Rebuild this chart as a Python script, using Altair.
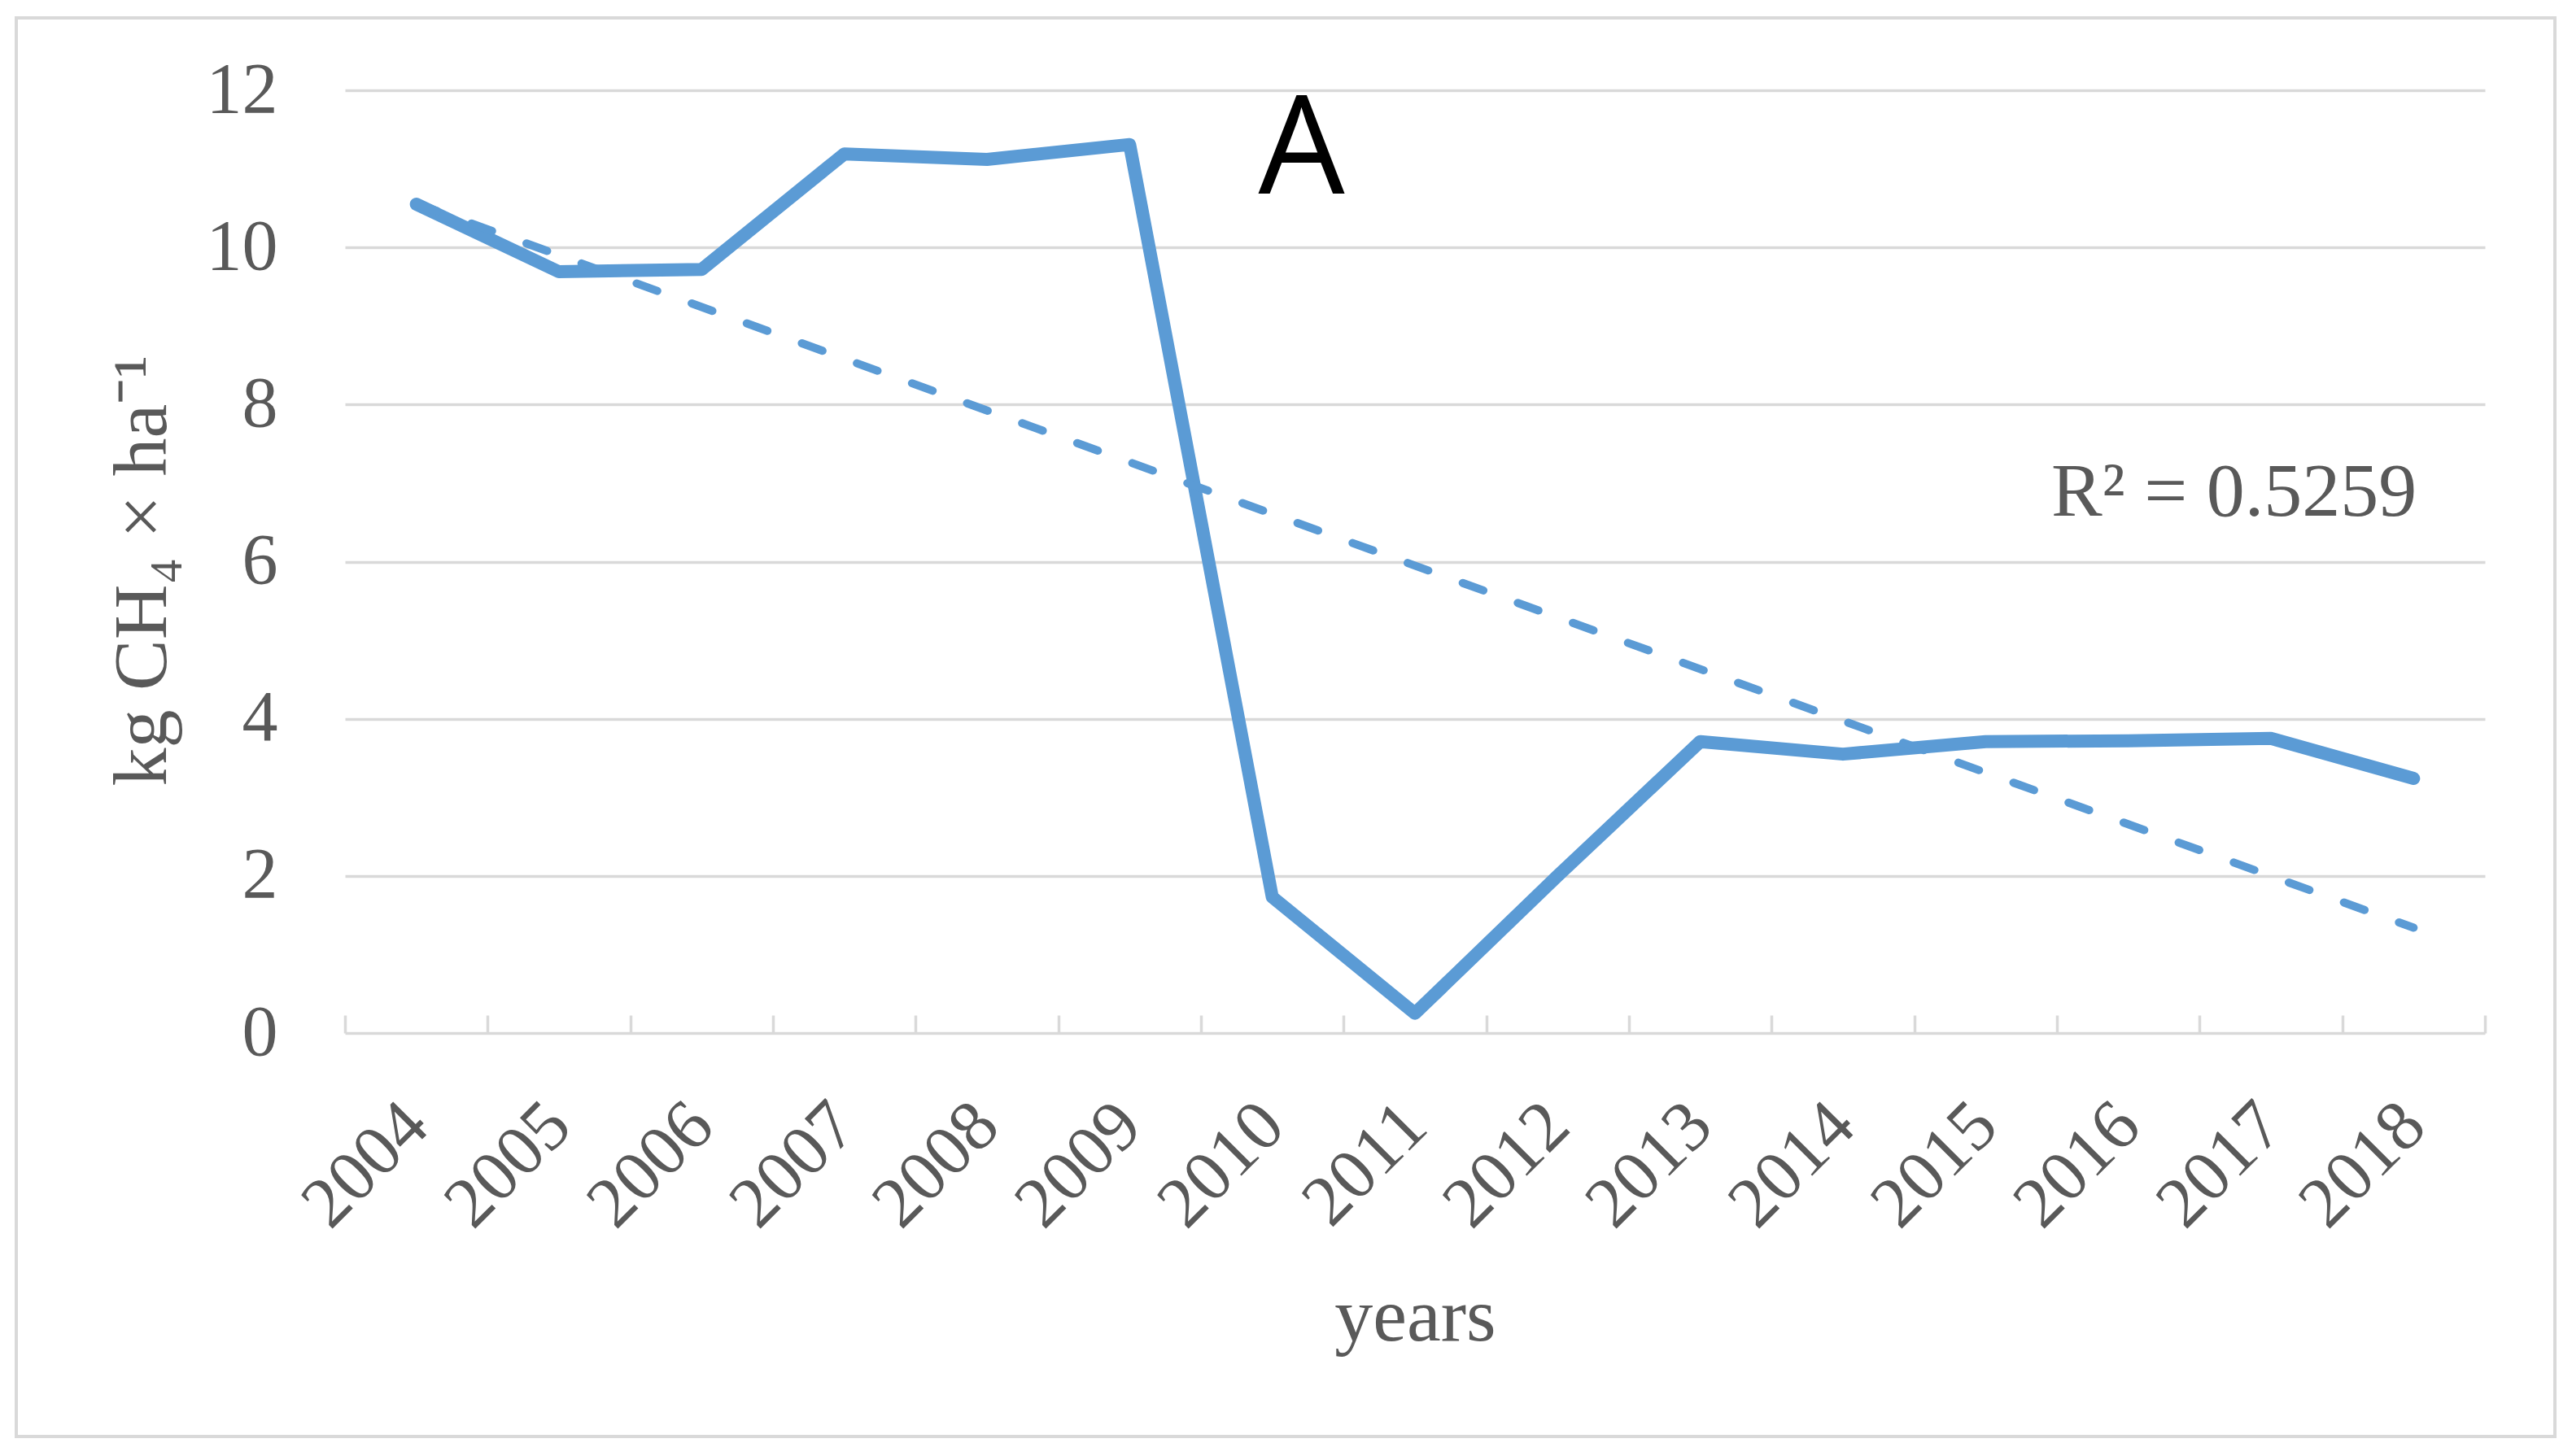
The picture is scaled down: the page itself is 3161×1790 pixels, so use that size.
import altair as alt
import pandas as pd

# ---- data ----
years = ["2004", "2005", "2006", "2007", "2008", "2009", "2010", "2011",
         "2012", "2013", "2014", "2015", "2016", "2017", "2018"]
values = [10.55, 9.69, 9.72, 11.19, 11.12, 11.31, 1.73, 0.25,
          2.00, 3.71, 3.55, 3.71, 3.72, 3.75, 3.24]
y_ticks = [0, 2, 4, 6, 8, 10, 12]

panel_label = ["A"]
panel_year = ["2010"]
panel_value = [10.68]

r2_label = ["R\u00b2 = 0.5259"]
r2_year = ["2018"]
r2_value = [6.59]

BLUE = "#5B9BD5"
GRID = "#d9d9d9"
TEXT = "#595959"
SERIF = "Liberation Serif"
Y_TITLE = "kg CH\u2084 \u00d7 ha\u207b\u00b9"

df = pd.DataFrame({"year": years, "yearnum": [int(y) for y in years], "value": values})
df_a = pd.DataFrame({"year": panel_year, "value": panel_value, "label": panel_label})
df_r2 = pd.DataFrame({"year": r2_year, "value": r2_value, "label": r2_label})

x_band = alt.Scale(type="band", domain=years, paddingInner=0, paddingOuter=0)
y_scale = alt.Scale(domain=[y_ticks[0], y_ticks[-1]], nice=False, zero=True)

x_axis = alt.Axis(
    tickBand="extent", labelAngle=-45, labelAlign="right", labelBaseline="middle",
    labelFont=SERIF, labelFontSize=88, labelColor=TEXT, labelPadding=100,
    labelOverlap=False, labelBound=False, labelFlush=False,
    domain=False, ticks=True, tickSize=22, tickColor=GRID, tickWidth=3.5,
    offset=-22, grid=False,
    titleFont=SERIF, titleFontSize=94, titleColor=TEXT, titleFontWeight="normal",
    titleBaseline="alphabetic", titleY=399,
)
y_axis = alt.Axis(
    values=y_ticks, format="d", grid=True, gridColor=GRID, gridWidth=3.5,
    domain=False, ticks=False,
    labelFont=SERIF, labelFontSize=88, labelColor=TEXT, labelPadding=83,
    titleFont=SERIF, titleFontSize=94, titleColor=TEXT, titleFontWeight="normal",
    titleAngle=-90, titleBaseline="alphabetic", titleAlign="center",
    titleX=-221, titleY=590,
)

line = alt.Chart(df).mark_line(
    color=BLUE, strokeWidth=16, strokeCap="round", strokeJoin="round"
).encode(
    x=alt.X("year:O", scale=x_band, bandPosition=0.5, axis=x_axis, title="years"),
    y=alt.Y("value:Q", scale=y_scale, axis=y_axis, title=Y_TITLE),
)

trend = alt.Chart(df).transform_regression("yearnum", "value").mark_line(
    color=BLUE, strokeWidth=10, strokeDash=[27, 45], strokeCap="round"
).encode(
    x=alt.X("yearnum:Q",
            scale=alt.Scale(domain=[int(years[0]) - 0.5, int(years[-1]) + 0.5],
                            nice=False, zero=False),
            axis=None),
    y=alt.Y("value:Q", scale=y_scale, title=Y_TITLE),
)

text_a = alt.Chart(df_a).mark_text(
    font="Open Sans", fontSize=168, color="black", align="center",
    baseline="alphabetic", dx=36
).encode(
    x=alt.X("year:O", scale=x_band, bandPosition=0.5, axis=None),
    y=alt.Y("value:Q", scale=y_scale, title=Y_TITLE),
    text="label:N",
)

text_r2 = alt.Chart(df_r2).mark_text(
    font=SERIF, fontSize=94, color=TEXT, align="right",
    baseline="alphabetic", dx=4
).encode(
    x=alt.X("year:O", scale=x_band, bandPosition=0.5, axis=None),
    y=alt.Y("value:Q", scale=y_scale, title=Y_TITLE),
    text="label:N",
)

frame = alt.Chart(pd.DataFrame({"k": [0]})).mark_rect(
    fillOpacity=0, stroke=GRID, strokeWidth=4
).encode(
    x=alt.value(-404), x2=alt.value(2716), y=alt.value(-89), y2=alt.value(1655)
)

chart = alt.layer(frame, line, trend, text_a, text_r2).resolve_scale(
    x="independent"
).properties(
    width=2630, height=1159,
    padding={"left": 416, "top": 103, "right": 95, "bottom": 505},
    autosize=alt.AutoSizeParams(type="none"),
    background="white",
).configure_view(strokeWidth=0)

chart.save("out.html", embed_options={"renderer": "svg", "actions": False})
